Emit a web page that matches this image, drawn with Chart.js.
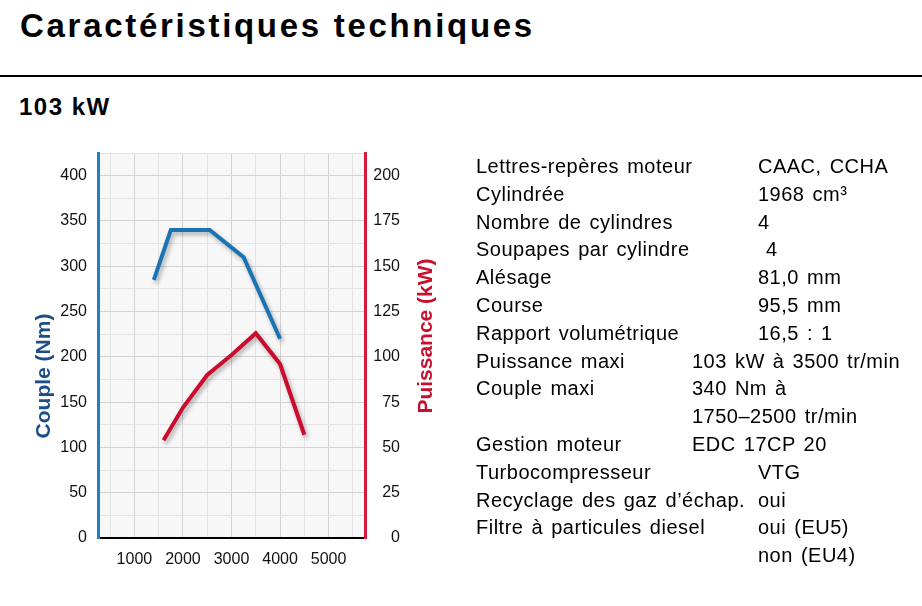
<!DOCTYPE html>
<html lang="fr">
<head>
<meta charset="utf-8">
<script src="https://cdn.jsdelivr.net/npm/chart.js@4"></script>
<style>
  html, body { margin: 0; padding: 0; background: #fff; }
  body { width: 922px; height: 606px; position: relative; overflow: hidden; font-family: "Liberation Sans", Arial, sans-serif; color: #000; }
  #title { position: absolute; left: 20px; top: 10px; font-size: 33px; font-weight: bold; line-height: 31px; letter-spacing: 2.7px; white-space: nowrap; }
  #rule { position: absolute; left: 0; top: 75px; width: 922px; height: 2px; background: #000; }
  #sub { position: absolute; left: 19px; top: 95px; font-size: 24px; font-weight: bold; line-height: 24px; letter-spacing: 1.5px; white-space: nowrap; }
  #chartBox { position: absolute; left: 0; top: 140px; width: 450px; height: 440px; }
  #specs { position: absolute; left: 0; top: 153px; width: 922px; font-size: 20px; }
  .row { position: relative; height: 27.8px; line-height: 27.8px; white-space: nowrap; letter-spacing: 0.5px; word-spacing: 2px; }
  .row span { position: absolute; top: 0; }
  .lbl { left: 476px; }
  .val { left: 758px; }
  .val2 { left: 692px; }
</style>
</head>
<body>
<div id="title">Caractéristiques techniques</div>
<div id="rule"></div>
<div id="sub">103 kW</div>
<div id="chartBox"><canvas id="chart" width="450" height="440"></canvas></div>
<div id="specs"></div>

<script>
// engine curves
const torqueRpm = [1400, 1750, 2550, 3250, 4000];
const torqueNm = [285, 340, 340, 310, 220];
const powerRpm = [1600, 2000, 2500, 3000, 3500, 4000, 4500];
const powerKw = [54, 72, 90, 101, 113, 96, 57];

const rpmLabels = [1000, 2000, 3000, 4000, 5000];
const torqueLabels = [0, 50, 100, 150, 200, 250, 300, 350, 400];
const powerLabels = [0, 25, 50, 75, 100, 125, 150, 175, 200];

const specLabels = [
    'Lettres-repères moteur', 'Cylindrée', 'Nombre de cylindres', 'Soupapes par cylindre',
    'Alésage', 'Course', 'Rapport volumétrique', 'Puissance maxi', 'Couple maxi', '',
    'Gestion moteur', 'Turbocompresseur', 'Recyclage des gaz d’échap.', 'Filtre à particules diesel', ''
];
const specValues = [
    'CAAC, CCHA', '1968 cm³', '4', '\u00a04', '81,0 mm', '95,5 mm', '16,5 : 1',
    '103 kW à 3500 tr/min', '340 Nm à', '1750–2500 tr/min', 'EDC 17CP 20',
    'VTG', 'oui', 'oui (EU5)', 'non (EU4)'
];
const wideRows = [7, 8, 9, 10];

const SPECS = document.getElementById('specs');
specLabels.forEach(function(label, i) {
    const row = document.createElement('div');
    row.className = 'row';
    const l = document.createElement('span');
    l.className = 'lbl';
    l.textContent = label;
    const v = document.createElement('span');
    v.className = wideRows.includes(i) ? 'val2' : 'val';
    v.textContent = specValues[i];
    row.appendChild(l);
    row.appendChild(v);
    SPECS.appendChild(row);
});

const BLUE = '#1a74b3';
const RED = '#cc0c2f';
const FONT = '"Liberation Sans", Arial, sans-serif';

function gridTicks(from, to, step) {
    const out = [];
    for (let v = from; v <= to + 0.001; v += step) {
        out.push({ value: v });
    }
    return out;
}

// fixed box sizes, no extra room for half labels
function fixWidth(w) {
    return scale => {
        scale.width = w;
        scale.paddingTop = 0;
        scale.paddingBottom = 0;
    };
}

const plotBackground = {
    id: 'plotBackground',
    beforeDraw(chart) {
        const a = chart.chartArea;
        const ctx = chart.ctx;
        ctx.save();
        ctx.fillStyle = '#f7f7f7';
        ctx.fillRect(a.left, a.top, a.right - a.left, a.bottom - a.top);
        ctx.restore();
    }
};

const lineShadow = {
    id: 'lineShadow',
    beforeDatasetDraw(chart) {
        const ctx = chart.ctx;
        ctx.save();
        ctx.shadowColor = 'rgba(0,0,0,0.3)';
        ctx.shadowBlur = 4;
        ctx.shadowOffsetX = 2;
        ctx.shadowOffsetY = 3;
    },
    afterDatasetDraw(chart) {
        chart.ctx.restore();
    }
};

const axisTitles = {
    id: 'axisTitles',
    afterDraw(chart) {
        const ctx = chart.ctx;
        ctx.save();
        ctx.font = 'bold 21px ' + FONT;
        ctx.textAlign = 'center';
        ctx.textBaseline = 'alphabetic';
        ctx.fillStyle = '#1b4f8a';
        ctx.translate(50, 236);
        ctx.rotate(-Math.PI / 2);
        ctx.fillText('Couple (Nm)', 0, 0);
        ctx.restore();
        ctx.save();
        ctx.font = 'bold 21px ' + FONT;
        ctx.textAlign = 'center';
        ctx.textBaseline = 'alphabetic';
        ctx.fillStyle = '#c8102e';
        ctx.translate(432, 196);
        ctx.rotate(-Math.PI / 2);
        ctx.fillText('Puissance (kW)', 0, 0);
        ctx.restore();
    }
};

const CTX = document.getElementById('chart').getContext('2d');
new Chart(CTX, {
    type: 'line',
    data: {
        datasets: [
            {
                label: 'Couple (Nm)',
                data: torqueRpm.map((x, i) => ({ x: x, y: torqueNm[i] })),
                borderColor: BLUE,
                borderWidth: 4,
                borderCapStyle: 'butt',
                borderJoinStyle: 'miter',
                pointRadius: 0,
                tension: 0,
                yAxisID: 'y'
            },
            {
                label: 'Puissance (kW)',
                data: powerRpm.map((x, i) => ({ x: x, y: powerKw[i] })),
                borderColor: RED,
                borderWidth: 4,
                borderCapStyle: 'butt',
                borderJoinStyle: 'miter',
                pointRadius: 0,
                tension: 0,
                yAxisID: 'y1'
            }
        ]
    },
    options: {
        responsive: false,
        animation: false,
        layout: { padding: { top: 13, left: 0, right: 50, bottom: 0 } },
        plugins: {
            legend: { display: false },
            tooltip: { enabled: false }
        },
        scales: {
            x: {
                type: 'linear',
                min: 250,
                max: 5750,
                afterBuildTicks: scale => { scale.ticks = gridTicks(500, 5500, 500); },
                afterFit: scale => {
                    scale.height = 42;
                    scale.paddingLeft = 0;
                    scale.paddingRight = 0;
                },
                ticks: {
                    autoSkip: false,
                    maxRotation: 0,
                    padding: 12,
                    color: '#111',
                    font: { family: FONT, size: 16 },
                    callback: v => rpmLabels.includes(v) ? String(v) : ''
                },
                grid: {
                    drawTicks: false,
                    color: c => (c.tick && c.tick.value % 1000 === 0) ? '#d2d2d2' : '#e3e3e3'
                },
                border: { color: '#000', width: 2 }
            },
            y: {
                position: 'left',
                min: 0,
                max: 425,
                afterBuildTicks: scale => { scale.ticks = gridTicks(0, 425, 25); },
                afterFit: fixWidth(98),
                ticks: {
                    autoSkip: false,
                    padding: 11,
                    color: '#111',
                    font: { family: FONT, size: 16 },
                    callback: v => torqueLabels.includes(v) ? String(v) : ''
                },
                grid: {
                    drawTicks: false,
                    color: c => (c.tick && c.tick.value % 50 === 0) ? '#d2d2d2' : '#e3e3e3'
                },
                border: { color: '#1f80c2', width: 3 }
            },
            y1: {
                position: 'right',
                min: 0,
                max: 212.5,
                afterBuildTicks: scale => { scale.ticks = gridTicks(0, 200, 25); },
                afterFit: fixWidth(35),
                ticks: {
                    autoSkip: false,
                    padding: 10,
                    crossAlign: 'far',
                    color: '#111',
                    font: { family: FONT, size: 16 },
                    callback: v => powerLabels.includes(v) ? String(v) : ''
                },
                grid: { drawOnChartArea: false, drawTicks: false },
                border: { color: '#d41a3c', width: 3 }
            }
        }
    },
    plugins: [plotBackground, lineShadow, axisTitles]
});
</script>
</body>
</html>
